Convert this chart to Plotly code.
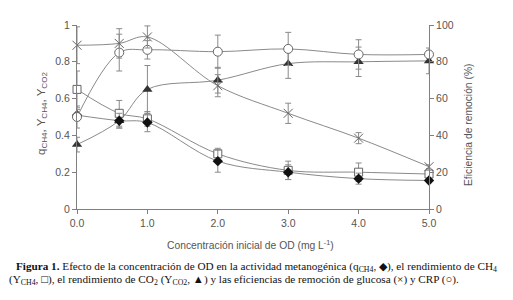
import plotly.graph_objects as go

od = [0.0, 0.6, 1.0, 2.0, 3.0, 4.0, 5.0]
q_ch4 = [0.51, 0.48, 0.47, 0.26, 0.20, 0.165, 0.155]
q_ch4_err = [0.03, 0.04, 0.05, 0.06, 0.04, 0.03, 0.01]
y_ch4 = [0.65, 0.52, 0.49, 0.30, 0.21, 0.20, 0.19]
y_ch4_err = [0.10, 0.07, 0.04, 0.03, 0.05, 0.05, 0.02]
y_co2 = [0.35, 0.48, 0.65, 0.70, 0.79, 0.80, 0.805]
y_co2_err = [0.04, 0.04, 0.13, 0.07, 0.08, 0.08, 0.07]
glucosa = [89, 90, 93.5, 67, 52, 38.5, 23]
glucosa_err = [10, 8, 6, 6, 5.5, 3, 1]
crp = [50, 85, 86.5, 85.5, 87, 84, 84]
crp_err = [6, 10, 5, 9, 9, 8, 2]

x_ticks = [0, 1, 2, 3, 4, 5]
x_ticklabels = ["0.0", "1.0", "2.0", "3.0", "4.0", "5.0"]
left_ticks = [0, 0.2, 0.4, 0.6, 0.8, 1]
left_ticklabels = ["0", "0.2", "0.4", "0.6", "0.8", "1"]
right_ticks = [0, 20, 40, 60, 80, 100]

LINE = "#8a8a8a"
AX = "#808080"
TXT = "#555555"
FONT = "Liberation Sans, Arial"

# page geometry (browser body has an 8px margin)
L, T, R, B = 77, 25, 429, 209
def px(x):
    return (x - L) / (R - L)
def py(y):
    return (B - y) / (B - T)

def err(vals):
    return dict(type="data", array=vals, color=LINE, thickness=1, width=3)

fig = go.Figure()
fig.add_trace(go.Scatter(x=od, y=crp, yaxis="y2", mode="lines+markers", line_shape="spline",
                         line=dict(color=LINE, width=1), error_y=err(crp_err),
                         marker=dict(symbol="circle", size=9, color="white", line=dict(color="#666", width=1)),
                         cliponaxis=False))
fig.add_trace(go.Scatter(x=od, y=glucosa, yaxis="y2", mode="lines+markers", line_shape="spline",
                         line=dict(color=LINE, width=1), error_y=err(glucosa_err),
                         marker=dict(symbol="x-thin-open", size=9, color="#666", line=dict(color="#666", width=1)),
                         cliponaxis=False))
fig.add_trace(go.Scatter(x=od, y=y_co2, mode="lines+markers", line_shape="spline",
                         line=dict(color=LINE, width=1), error_y=err(y_co2_err),
                         marker=dict(symbol="triangle-up", size=9, color="#333"),
                         cliponaxis=False))
fig.add_trace(go.Scatter(x=od, y=y_ch4, mode="lines+markers", line_shape="spline",
                         line=dict(color=LINE, width=1), error_y=err(y_ch4_err),
                         marker=dict(symbol="square", size=8, color="white", line=dict(color="#666", width=1)),
                         cliponaxis=False))
fig.add_trace(go.Scatter(x=od, y=q_ch4, mode="lines+markers", line_shape="spline",
                         line=dict(color=LINE, width=1), error_y=err(q_ch4_err),
                         marker=dict(symbol="diamond", size=8, color="#111"),
                         cliponaxis=False))

common = dict(showgrid=False, zeroline=False, showline=True, linecolor=AX, linewidth=1,
              ticklen=4, tickcolor=AX, automargin=False)
fig.update_layout(
    width=505, height=292,
    margin=dict(l=L - 8, r=505 + 8 - R, t=T - 8, b=292 + 8 - B, autoexpand=False),
    paper_bgcolor="white", plot_bgcolor="white",
    showlegend=False,
    font=dict(family=FONT, size=10.5, color=TXT),
    xaxis=dict(range=[0, 5], tickvals=x_ticks, ticktext=x_ticklabels, ticks="outside", **common),
    yaxis=dict(range=[0, 1], tickvals=left_ticks, ticktext=left_ticklabels, ticks="outside", **common),
    yaxis2=dict(range=[0, 100], tickvals=right_ticks, overlaying="y", side="right", anchor="x",
                ticks="outside", **common),
    yaxis3=dict(range=[0, 1], tickvals=left_ticks, overlaying="y", side="left", anchor="x",
                ticks="inside", showticklabels=False, **common),
    yaxis4=dict(range=[0, 100], tickvals=right_ticks, overlaying="y", side="right", anchor="x",
                ticks="inside", showticklabels=False, **common),
)

AXT = dict(family=FONT, size=10.3, color=TXT)
fig.add_annotation(xref="paper", yref="paper", x=px(250), y=py(244), xanchor="center", yanchor="middle",
                   showarrow=False, font=AXT, text="Concentración inicial de OD (mg L<sup>-1</sup>)")
fig.add_annotation(xref="paper", yref="paper", x=px(42), y=py(114), xanchor="center", yanchor="middle",
                   showarrow=False, textangle=-90, font=dict(family=FONT, size=11.5, color=TXT),
                   text="q<sub>CH4</sub>, Y<sub>CH4</sub>, Y<sub>CO2</sub>")
fig.add_annotation(xref="paper", yref="paper", x=px(468), y=py(125), xanchor="center", yanchor="middle",
                   showarrow=False, textangle=-90, font=AXT, text="Eficiencia de remoción (%)")

CAP = dict(family="Liberation Serif, Times New Roman, serif", size=11.2, color="#111")
fig.add_annotation(xref="paper", yref="paper", x=px(256), y=py(267), xanchor="center", yanchor="middle",
                   showarrow=False, font=CAP,
                   text="<b>Figura 1.</b> Efecto de la concentración de OD en la actividad metanogénica (q<sub>CH4</sub>, ◆), el rendimiento de CH<sub>4</sub>")
fig.add_annotation(xref="paper", yref="paper", x=px(234), y=py(280), xanchor="center", yanchor="middle",
                   showarrow=False, font=CAP,
                   text="(Y<sub>CH4</sub>, □), el rendimiento de CO<sub>2</sub> (Y<sub>CO2</sub>, ▲) y las eficiencias de remoción de glucosa (×) y CRP (○).")

fig.write_html("out.html")
